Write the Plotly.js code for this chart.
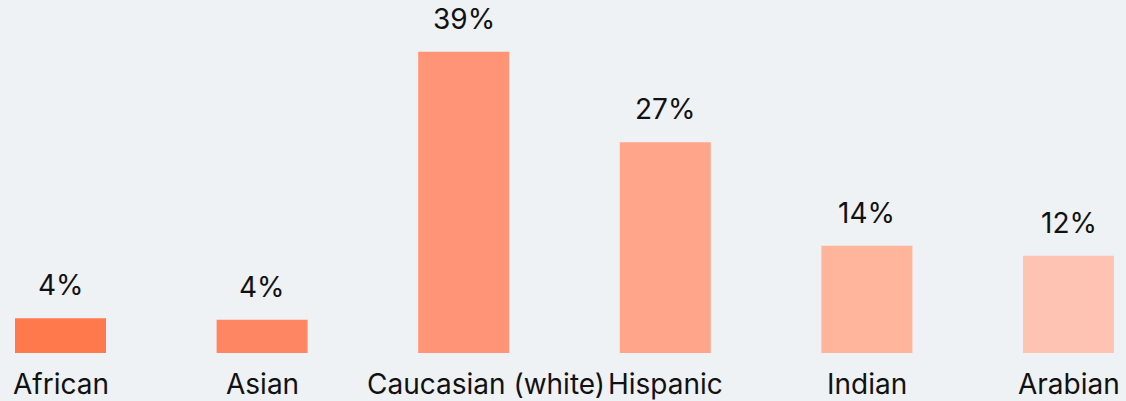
<!DOCTYPE html>
<html>
<head>
<meta charset="utf-8">
<script src="https://cdn.plot.ly/plotly-3.0.1.min.js"></script>
<style>
html,body{margin:0;padding:0;background:#eef2f5;}
#chart{width:1126px;height:401px;}
</style>
</head>
<body>
<div id="chart"></div>
<script>
const categories = ["African", "Asian", "Caucasian (white)", "Hispanic", "Indian", "Arabian"];
const values = [4.5, 4.3, 39, 27.3, 13.9, 12.6];
const valueLabels = ["4%", "4%", "39%", "27%", "14%", "12%"];
const barColors = ["#ff794d", "#ff8662", "#ff9576", "#ffa58a", "#ffb49c", "#ffc3b3"];

const xIdx = categories.map((c, i) => i);
const FONT = "Inter, Lato, sans-serif";

const valueAnnotations = xIdx.map(i => ({
  x: i, y: values[i], xref: 'x', yref: 'y',
  text: valueLabels[i], showarrow: false,
  yanchor: 'bottom', xanchor: 'center', yshift: 14,
  font: {family: FONT, size: 28, color: '#111111'}
}));
const catAnnotations = xIdx.map(i => ({
  x: i, y: 0, xref: 'x', yref: 'y',
  text: categories[i], showarrow: false,
  yanchor: 'top', xanchor: 'center', yshift: -12,
  xshift: i === 2 ? 22 : 0,
  font: {family: FONT, size: 28, color: '#111111'}
}));

Plotly.newPlot('chart', [{
  type: 'bar',
  x: xIdx,
  y: values,
  width: 0.4514,
  marker: {color: barColors, line: {width: 0}},
  hoverinfo: 'none'
}], {
  width: 1126, height: 401,
  margin: {l: 0, r: 0, t: 0, b: 48, pad: 0},
  paper_bgcolor: '#eef2f5',
  plot_bgcolor: '#eef2f5',
  showlegend: false,
  xaxis: {range: [-0.3001, 5.2852], showgrid: false, zeroline: false, showticklabels: false, showline: false, fixedrange: true},
  yaxis: {range: [0, 45.7], showgrid: false, zeroline: false, showticklabels: false, showline: false, fixedrange: true},
  annotations: valueAnnotations.concat(catAnnotations)
}, {displayModeBar: false, staticPlot: true});
</script>
</body>
</html>
